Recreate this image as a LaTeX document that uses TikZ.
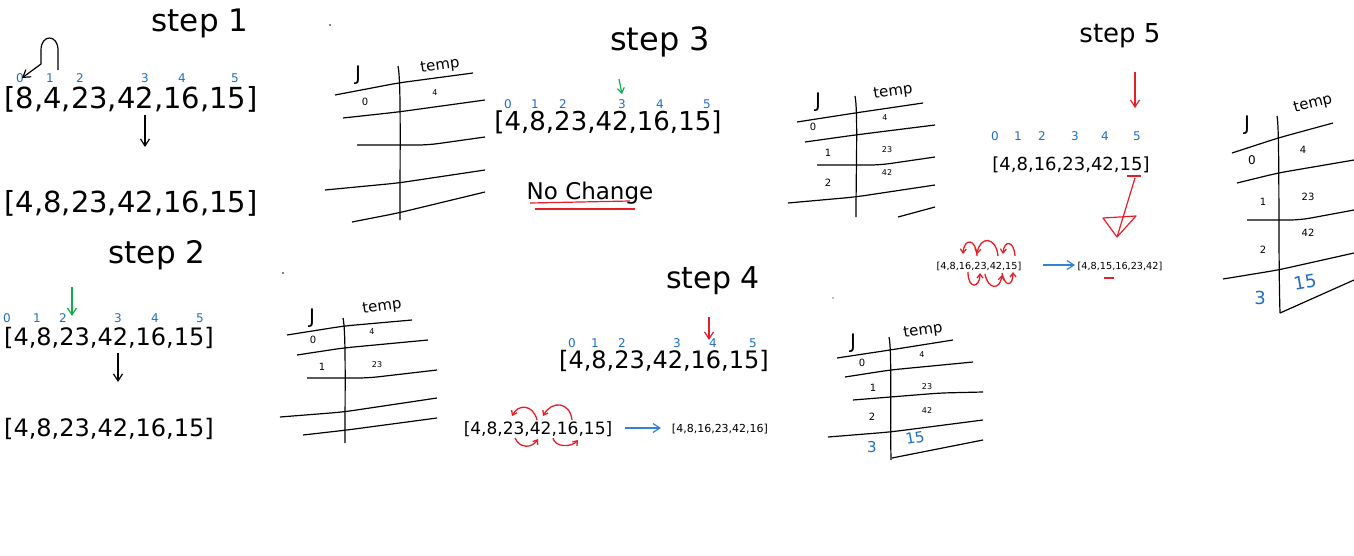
\documentclass[tikz,border=0pt]{standalone}
\usepackage{fontspec}
\setmainfont{DejaVu Sans}
\usetikzlibrary{arrows.meta}
\definecolor{idxblue}{RGB}{30,110,200}
\definecolor{mkgreen}{RGB}{20,170,80}
\definecolor{mkred}{RGB}{230,30,40}
\definecolor{arrblue}{RGB}{50,130,215}
\newcommand{\fs}[1]{\fontsize{#1}{#1}\selectfont}
\tikzset{
  every node/.style={inner sep=0pt},
  ttl/.style={anchor=base,font=\fs{31}},
  arrtxt/.style={anchor=base},
  idx/.style={anchor=base,text=idxblue,font=\fs{12}},
  hdr/.style={font=\fs{20}},
  hdrt/.style={font=\fs{15}},
  tcell/.style={font=\fs{10}},
  tcellsm/.style={font=\fs{8}},
  tcellb/.style={text=idxblue,font=\fs{15}},
  tline/.style={line width=1.2pt,rounded corners=10pt},
  pen/.style={line width=1.2pt},
  barb/.style={-{Straight Barb[length=7pt,width=9pt]}},
  swap/.style={mkred,line width=1.3pt,-{Straight Barb[length=4pt,width=6pt]}},
}
\begin{document}
\begin{tikzpicture}[x=1pt,y=-1pt]
\fill[white] (0,0) rectangle (1354,555);
\useasboundingbox (0,0) rectangle (1354,555);
% stray dots
\fill (330,25) circle (0.8);
\fill (283,273) circle (0.8);
\fill[gray] (833,298) circle (0.8);

% ---------- step 1 ----------
\node[ttl] (t1) at (200,31) {step 1};
\foreach \i/\x in {0/20,1/50,2/80,3/145,4/182,5/235}
  \node[idx] (a\i) at (\x,82) {\i};
\node[arrtxt,font=\fs{29}] (s1a) at (131,108) {[8,4,23,42,16,15]};
\node[arrtxt,font=\fs{29}] (s1b) at (131,212) {[4,8,23,42,16,15]};
\coordinate (s1f) at (145,115);
\coordinate (s1t) at (145,147);
\draw[pen,barb] (s1f) -- (s1t);
\coordinate (loopA) at (58,70);
\coordinate (loopE) at (22,78);
\draw[pen,barb] (loopA) -- (58,50) .. controls (58,34) and (41,34) .. (41,50) -- (41,64) -- (loopE);

% ---------- step 2 ----------
\node[ttl] (t2) at (157,263) {step 2};
\foreach \i/\x in {0/7,1/37,2/63,3/118,4/155,5/200}
  \node[idx] (b\i) at (\x,322) {\i};
\node[arrtxt,font=\fs{24}] (s2a) at (109,345) {[4,8,23,42,16,15]};
\node[arrtxt,font=\fs{24}] (s2b) at (109,436) {[4,8,23,42,16,15]};
\coordinate (g2s) at (72,287);
\coordinate (g2e) at (72,316);
\draw[mkgreen,pen,barb] (g2s) -- (g2e);
\coordinate (s2f) at (118,353);
\coordinate (s2t) at (118,382);
\draw[pen,barb] (s2f) -- (s2t);

% ---------- table 1 ----------
\node[hdr] (j1) at (358,75) {J};
\node[hdrt,rotate=8] (m1) at (440,66) {temp};
\draw[pen] (398,66) .. controls (401,80) and (400,140) .. (400,220);
\draw[tline] (335,95) -- (398,83) -- (473,73);
\draw[tline] (343,118) -- (398,112) -- (485,100);
\draw[tline] (357,145) -- (428,145) -- (485,137);
\draw[tline] (325,190) -- (398,183) -- (485,170);
\draw[tline] (352,222) -- (398,213) -- (485,192);
\node[tcell] (c10) at (365,102) {0};
\node[tcellsm] (c11) at (435,93) {4};

% ---------- table 2 ----------
\node[hdr] (j2) at (312,318) {J};
\node[hdrt,rotate=8] (m2) at (382,307) {temp};
\draw[pen] (343,318) .. controls (346,330) and (345,390) .. (345,443);
\draw[tline] (287,335) -- (344,326) -- (412,320);
\draw[tline] (297,355) -- (343,348) -- (428,340);
\draw[tline] (307,378) -- (368,378) -- (437,370);
\draw[tline] (280,417) -- (343,412) -- (437,398);
\draw[tline] (303,435) -- (347,430) -- (437,418);
\node[tcell] (c20) at (313,340) {0};
\node[tcellsm] (c21) at (372,332) {4};
\node[tcell] (c22) at (322,367) {1};
\node[tcellsm] (c23) at (377,365) {23};

% ---------- step 3 ----------
\node[ttl,font=\fs{32}] (t3) at (660,50) {step 3};
\foreach \i/\x in {0/508,1/535,2/563,3/622,4/660,5/707}
  \node[idx] (c\i) at (\x,108) {\i};
\node[arrtxt,font=\fs{26}] (s3a) at (608,130) {[4,8,23,42,16,15]};
\coordinate (g3s) at (619,79);
\coordinate (g3e) at (622,94);
\draw[mkgreen,pen,-{Straight Barb[length=5pt,width=7pt]}] (g3s) -- (g3e);
\node[anchor=base,font=\fs{23}] (nc) at (590,199) {No Change};
\coordinate (u3a) at (530,203);
\coordinate (u3b) at (630,201);
\coordinate (u3c) at (535,209);
\coordinate (u3d) at (635,209);
\draw[mkred,pen] (u3a) -- (u3b);
\draw[mkred,pen] (u3c) -- (u3d);

% ---------- step 4 ----------
\node[ttl,font=\fs{30}] (t4) at (713,288) {step 4};
\foreach \i/\x in {0/572,1/595,2/622,3/677,4/713,5/753}
  \node[idx] (d\i) at (\x,347) {\i};
\node[arrtxt,font=\fs{24}] (s4a) at (664,368) {[4,8,23,42,16,15]};
\coordinate (r4s) at (709,317);
\coordinate (r4e) at (709,340);
\draw[mkred,pen,barb] (r4s) -- (r4e);
\node[arrtxt,font=\fs{17}] (s4b) at (538,434) {[4,8,23,42,16,15]};
\node[arrtxt,font=\fs{11}] (s4c) at (720,432) {[4,8,16,23,42,16]};
\coordinate (b4s) at (625,428);
\coordinate (b4e) at (661,428);
\draw[arrblue,pen,barb] (b4s) -- (b4e);
% swaps
\draw[swap] (537,420) .. controls (533,404) and (518,404) .. (512,416);
\draw[swap] (572,420) .. controls (570,402) and (552,400) .. (543,416);
\draw[swap] (515,438) .. controls (520,449) and (532,448) .. (538,439);
\draw[swap] (553,438) .. controls (555,448) and (572,447) .. (578,440);

% ---------- table 3 ----------
\node[hdr] (j3) at (818,102) {J};
\node[hdrt,rotate=8] (m3) at (893,92) {temp};
\draw[pen] (855,96) .. controls (858,110) and (856,170) .. (856,217);
\draw[tline] (797,122) -- (855,113) -- (923,103);
\draw[tline] (805,142) -- (855,135) -- (935,125);
\draw[tline] (817,165) -- (880,165) -- (935,157);
\draw[tline] (788,203) -- (855,197) -- (935,185);
\draw[tline] (898,217) -- (935,207);
\node[tcell] (c30) at (813,127) {0};
\node[tcellsm] (c31) at (885,118) {4};
\node[tcell] (c32) at (828,153) {1};
\node[tcellsm] (c33) at (887,150) {23};
\node[tcell] (c34) at (828,183) {2};
\node[tcellsm] (c35) at (887,173) {42};

% ---------- table 4 ----------
\node[hdr] (j4) at (853,343) {J};
\node[hdrt,rotate=8] (m4) at (923,331) {temp};
\draw[pen] (889,337) .. controls (892,350) and (890,410) .. (891,460);
\draw[tline] (837,358) -- (890,350) -- (953,340);
\draw[tline] (845,377) -- (890,370) -- (973,362);
\draw[tline] (853,400) -- (940,393) -- (983,392);
\draw[tline] (828,437) -- (890,432) -- (983,420);
\draw[tline] (892,458) -- (983,440);
\node[tcell] (c40) at (862,363) {0};
\node[tcellsm] (c41) at (922,355) {4};
\node[tcell] (c42) at (873,388) {1};
\node[tcellsm] (c43) at (927,387) {23};
\node[tcell] (c44) at (872,417) {2};
\node[tcellsm] (c45) at (927,411) {42};
\node[tcellb] (c46) at (872,447) {3};
\node[tcellb,rotate=10] (c47) at (915,438) {15};

% ---------- step 5 ----------
\node[ttl,font=\fs{26}] (t5) at (1120,42) {step 5};
\foreach \i/\x in {0/995,1/1018,2/1042,3/1075,4/1105,5/1137}
  \node[idx] (e\i) at (\x,140) {\i};
\node[arrtxt,font=\fs{18}] (s5a) at (1071,170) {[4,8,16,23,42,15]};
\coordinate (r5s) at (1135,72);
\coordinate (r5e) at (1135,108);
\draw[mkred,pen,barb] (r5s) -- (r5e);
\coordinate (u5a) at (1127,176);
\coordinate (u5b) at (1141,176);
\draw[mkred,pen] (u5a) -- (u5b);
\coordinate (fun) at (1117,237);
\draw[mkred,pen] (1135,178) -- (fun);
\draw[mkred,pen,line join=round] (1103,218) -- (1136,216) -- (fun) -- cycle;
\node[arrtxt,font=\fs{9.7}] (s5b) at (979,269) {[4,8,16,23,42,15]};
\node[arrtxt,font=\fs{9.7}] (s5c) at (1120,269) {[4,8,15,16,23,42]};
\coordinate (b5s) at (1043,265);
\coordinate (b5e) at (1075,265);
\draw[arrblue,pen,barb] (b5s) -- (b5e);
\coordinate (u5c) at (1104,278);
\coordinate (u5d) at (1114,278);
\draw[mkred,pen] (u5c) -- (u5d);
% swaps
\draw[swap] (977,256) .. controls (976,238) and (964,238) .. (963,254);
\draw[swap] (998,256) .. controls (996,236) and (980,236) .. (977,254);
\draw[swap] (1015,256) .. controls (1014,240) and (1004,240) .. (1003,254);
\draw[swap] (968,272) .. controls (968,290) and (980,288) .. (980,273);
\draw[swap] (985,274) .. controls (988,290) and (1000,290) .. (1002,275);
\draw[swap] (1002,273) .. controls (1005,288) and (1013,286) .. (1013,272);

% ---------- table 5 ----------
\node[hdr] (j5) at (1247,125) {J};
\node[hdrt,rotate=14] (m5) at (1313,104) {temp};
\draw[pen] (1277,116) .. controls (1280,130) and (1278,250) .. (1280,313);
\draw[tline] (1232,153) -- (1278,138) -- (1333,123);
\draw[tline] (1237,183) -- (1278,173) -- (1354,160);
\draw[tline] (1247,220) -- (1300,220) -- (1354,210);
\draw[tline] (1223,279) -- (1278,270) -- (1354,253);
\draw[tline] (1280,313) -- (1354,280);
\node[font=\fs{12}] (c50) at (1252,160) {0};
\node[tcell] (c51) at (1303,150) {4};
\node[tcell] (c52) at (1263,202) {1};
\node[tcell] (c53) at (1308,197) {23};
\node[tcell] (c54) at (1263,250) {2};
\node[tcell] (c55) at (1308,233) {42};
\node[tcellb,font=\fs{18}] (c56) at (1260,298) {3};
\node[tcellb,font=\fs{18},rotate=10] (c57) at (1305,282) {15};
\end{tikzpicture}
\end{document}
